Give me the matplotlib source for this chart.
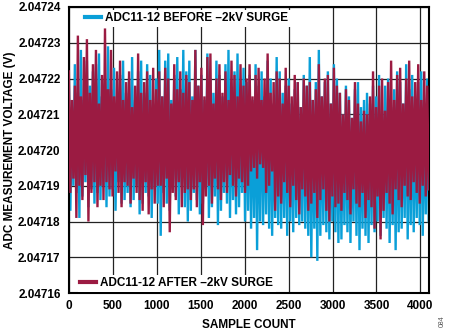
import numpy as np
import matplotlib
matplotlib.use("Agg")
import matplotlib.pyplot as plt
from matplotlib.lines import Line2D

# Offsets from 2.04720 V, in microvolts (alternating local peaks/troughs)
before_uV = [
    20, -17, 12, -10, 24, -12, 16, -19, 28, -13, 14, -9, 25, -16, 18, -11, 22, -15, 24, -12,
    27, -14, 15, -10, 20, -16, 29, -13, 17, -11, 23, -17, 13, -9, 21, -15, 25, -14, 16, -12,
    20, -16, 26, -14, 14, -10, 22, -18, 25, -15, 16, -12, 24, -13, 21, -19, 13, -11, 20, -15,
    28, -24, 15, -12, 25, -15, 27, -17, 14, -11, 21, -13, 26, -18, 17, -10, 28, -16, 22, -20,
    25, -17, 15, -12, 28, -14, 18, -18, 21, -15, 14, -11, 27, -19, 20, -16, 16, -13, 25, -21,
    21, -17, 15, -12, 24, -15, 28, -19, 16, -14, 22, -18, 27, -16, 13, -12, 23, -20, 19, -17,
    21, -22, 14, -19, 24, -28, 18, -20, 22, -21, 15, -18, 25, -22, 20, -24, 13, -19, 26, -21,
    22, -22, 16, -19, 18, -24, 20, -20, 13, -23, 17, -19, 19, -21, 12, -20, 21, -22, 18, -24,
    26, -30, 14, -22, 19, -31, 28, -24, 15, -21, 19, -23, 22, -25, 13, -20, 24, -23, 20, -26,
    16, -25, 10, -21, 18, -23, 15, -26, 9, -20, 17, -24, 19, -28, 12, -22, 14, -24, 16, -26,
    13, -21, 18, -23, 15, -20, 21, -24, 11, -19, 18, -22, 20, -26, 12, -21, 17, -28, 22, -23,
    19, -22, 13, -19, 24, -25, 17, -21, 21, -23, 14, -19, 19, -21, 22, -24, 13, -18, 20, -20,
]
after_uV = [
    22, -12, 14, -8, 18, -19, 32, -10, 15, -14, 26, -7, 31, -20, 16, -12, 24, -9, 28, -16,
    13, -10, 21, -14, 34, -9, 17, -11, 28, -13, 15, -6, 22, -12, 25, -16, 14, -9, 19, -10,
    22, -15, 12, -8, 18, -12, 27, -14, 16, -17, 19, -9, 22, -18, 14, -11, 23, -15, 17, -10,
    22, -10, 15, -16, 23, -8, 20, -23, 13, -12, 24, -14, 17, -9, 22, -16, 16, -12, 21, -11,
    19, -14, 14, -11, 28, -16, 18, -9, 23, -21, 15, -13, 26, -10, 27, -15, 13, -8, 20, -11,
    24, -14, 16, -9, 22, -12, 14, -7, 25, -10, 21, -13, 15, -8, 24, -9, 18, -12, 20, -10,
    24, -6, 15, -5, 21, -8, 23, -4, 14, -5, 20, -12, 27, -10, 16, -6, 19, -17, 22, -13,
    20, -15, 13, -9, 23, -12, 18, -16, 15, -10, 21, -14, 19, -18, 12, -11, 20, -13, 18, -17,
    19, -15, 14, -12, 17, -19, 24, -14, 15, -11, 20, -17, 21, -20, 13, -13, 23, -16, 18, -15,
    16, -17, 10, -12, 17, -14, 14, -18, 9, -11, 19, -15, 13, -16, 8, -12, 11, -19, 10, -14,
    15, -16, 22, -22, 12, -13, 18, -25, 20, -17, 11, -12, 19, -15, 25, -18, 14, -11, 21, -14,
    23, -16, 13, -10, 20, -13, 25, -14, 15, -9, 19, -12, 24, -15, 14, -10, 22, -13, 18, -11,
]
base_voltage = 2.04720
n_samples = 4096

x_ticks = [0, 500, 1000, 1500, 2000, 2500, 3000, 3500, 4000]
y_ticks = [2.04716, 2.04717, 2.04718, 2.04719, 2.04720, 2.04721, 2.04722, 2.04723, 2.04724]

blue = "#0a9fd8"
maroon = "#9b1b42"

plt.rcParams['font.family'] = ['Liberation Sans', 'DejaVu Sans']
plt.rcParams['path.simplify'] = False

fig = plt.figure(figsize=(4.5, 3.33), dpi=100)
ax = fig.add_axes([0.153, 0.12, 0.8, 0.859])

xb = np.linspace(0, n_samples - 1, len(before_uV))
xa = np.linspace(0, n_samples - 1, len(after_uV))
yb = base_voltage + np.array(before_uV) * 1e-6
ya = base_voltage + np.array(after_uV) * 1e-6

ax.plot(xb, yb, color=blue, lw=1.7, zorder=2, solid_joinstyle='miter')
ax.plot(xa, ya, color=maroon, lw=1.7, zorder=3, solid_joinstyle='miter')

ax.set_xlim(0, n_samples)
ax.set_ylim(2.04716, 2.04724)
ax.set_xticks(x_ticks)
ax.set_yticks(y_ticks)
ax.set_yticklabels([f"{v:.5f}" for v in y_ticks])
ax.tick_params(length=0, labelsize=8.5)
ax.tick_params(axis='x', pad=5)
ax.tick_params(axis='y', pad=6)
for lab in ax.get_xticklabels() + ax.get_yticklabels():
    lab.set_fontweight('bold')
ax.grid(True, color="#222222", lw=0.9, zorder=1)
ax.set_axisbelow(True)
for s in ax.spines.values():
    s.set_linewidth(1.5)
    s.set_color("black")

ax.set_xlabel("SAMPLE COUNT", fontsize=8.5, fontweight='bold', labelpad=5)
ax.set_ylabel("ADC MEASUREMENT VOLTAGE (V)", fontsize=8.5, fontweight='bold')
ax.yaxis.set_label_coords(-0.147, 0.5)

h1 = Line2D([0], [0], color=blue, lw=3)
h2 = Line2D([0], [0], color=maroon, lw=3)
leg1 = ax.legend([h1], ["ADC11-12 BEFORE \u20132kV SURGE"], loc="upper left",
                 bbox_to_anchor=(0.039, 0.99), frameon=True, fancybox=False,
                 framealpha=1, facecolor="white", edgecolor="none",
                 prop={'size': 8.5, 'weight': 'bold'}, handlelength=1.3,
                 handletextpad=0.4, borderpad=0.2, borderaxespad=0)
leg1.set_zorder(5)
ax.add_artist(leg1)
leg2 = ax.legend([h2], ["ADC11-12 AFTER \u20132kV SURGE"], loc="lower left",
                 bbox_to_anchor=(0.025, 0.005), frameon=True, fancybox=False,
                 framealpha=1, facecolor="white", edgecolor="none",
                 prop={'size': 8.5, 'weight': 'bold'}, handlelength=1.3,
                 handletextpad=0.4, borderpad=0.2, borderaxespad=0)
leg2.set_zorder(5)

fig.text(0.982, 0.035, "084", rotation=90, fontsize=5, color="#555555",
         ha="center", va="center")

fig.savefig("out.png", dpi=100)
